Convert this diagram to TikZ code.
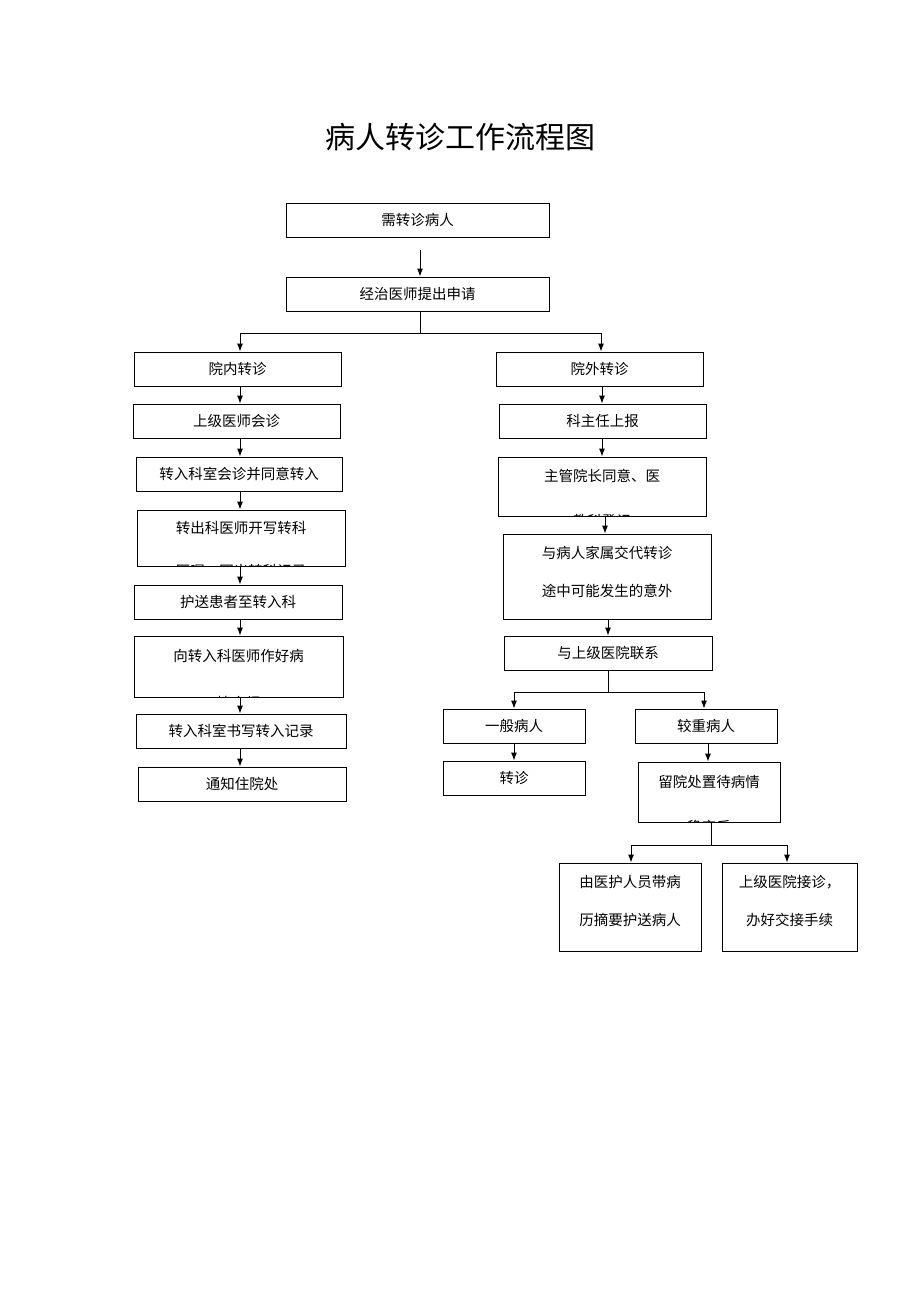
\documentclass[tikz,border=0pt]{standalone}
\usepackage{fontspec}
\newfontfamily\cjk{Noto Sans CJK SC}
\usetikzlibrary{arrows.meta}
\begin{document}
\begin{tikzpicture}[x=1pt,y=-1pt,
  box/.style={draw,line width=0.9pt,inner sep=0pt},
  lbl/.style={font=\cjk\fontsize{14.5}{15}\selectfont,inner sep=0pt},
  arr/.style={line width=0.9pt,-{Latex[length=8pt,width=6pt]}},
  ln/.style={line width=0.9pt}]
\useasboundingbox (0,0) rectangle (920,1302);
\newcommand\bx[5]{\node[box,minimum width=#4pt,minimum height=#5pt] (#1) at (#2,#3) {};}
\node[font=\cjk\fontsize{30}{32}\selectfont] (title) at (460,137) {病人转诊工作流程图};
% top
\bx{a}{417.5}{220}{263}{34}\node[lbl] at (a) {需转诊病人};
\bx{b}{417.5}{294}{263}{34}\node[lbl] at (b) {经治医师提出申请};
\coordinate (a0) at (420,250);
\draw[arr] (a0) -- (a0 |- b.north);
\coordinate (s1) at (420,333);
\coordinate (sl) at (240,333);
\coordinate (sr) at (601,333);
\draw[ln] (b.south -| s1) -- (s1);
\draw[ln] (sl) -- (sr);
% left column
\bx{l1}{237.5}{369}{207}{34}\node[lbl] at (l1) {院内转诊};
\bx{l2}{236.5}{421}{207}{34}\node[lbl] at (l2) {上级医师会诊};
\bx{l3}{239}{474}{206}{34}\node[lbl] at (l3) {转入科室会诊并同意转入};
\bx{l4}{241}{538}{208}{56}
\begin{scope}\clip (137,510) rectangle (345,566);
\node[lbl] at (241,528) {转出科医师开写转科};
\node[lbl] at (241,571) {医嘱，写出转科记录};\end{scope}
\bx{l5}{238}{602}{208}{34}\node[lbl] at (l5) {护送患者至转入科};
\bx{l6}{238.5}{666.5}{209}{61}
\begin{scope}\clip (134,636) rectangle (343,697);
\node[lbl] at (238.5,656) {向转入科医师作好病};
\node[lbl] at (238.5,703) {情介绍};\end{scope}
\bx{l7}{241}{731}{210}{34}\node[lbl] at (l7) {转入科室书写转入记录};
\bx{l8}{242}{784}{208}{34}\node[lbl] at (l8) {通知住院处};
\draw[arr] (sl) -- (sl |- l1.north);
\foreach \p/\q in {l1/l2,l2/l3,l3/l4,l4/l5,l5/l6,l6/l7,l7/l8}
  \draw[arr] (240,0 |- \p.south) -- (240,0 |- \q.north);
% right column
\bx{r1}{599.5}{369}{207}{34}\node[lbl] at (r1) {院外转诊};
\bx{r2}{602.5}{421}{207}{34}\node[lbl] at (r2) {科主任上报};
\bx{r3}{602}{486.5}{208}{59}
\begin{scope}\clip (498,457) rectangle (706,516);
\node[lbl] at (602,476) {主管院长同意、医};
\node[lbl] at (602,521) {教科登记};\end{scope}
\bx{r4}{607}{576.5}{208}{85}
\node[lbl] at (607,553) {与病人家属交代转诊};
\node[lbl] at (607,591) {途中可能发生的意外};
\bx{r5}{608}{653}{208}{34}\node[lbl] at (r5) {与上级医院联系};
\draw[arr] (sr) -- (sr |- r1.north);
\draw[arr] (602,0 |- r1.south) -- (602,0 |- r2.north);
\draw[arr] (602,0 |- r2.south) -- (602,0 |- r3.north);
\draw[arr] (605,0 |- r3.south) -- (605,0 |- r4.north);
\draw[arr] (608,0 |- r4.south) -- (608,0 |- r5.north);
\coordinate (s2) at (608,692);
\coordinate (s2l) at (514,692);
\coordinate (s2r) at (704,692);
\draw[ln] (r5.south -| s2) -- (s2);
\draw[ln] (s2l) -- (s2r);
\bx{g1}{514}{726}{142}{34}\node[lbl] at (g1) {一般病人};
\bx{g2}{514}{778}{142}{34}\node[lbl] at (g2) {转诊};
\bx{h1}{706}{726}{142}{34}\node[lbl] at (h1) {较重病人};
\bx{h2}{709}{792}{142}{60}
\begin{scope}\clip (638,762) rectangle (780,822);
\node[lbl] at (709,782) {留院处置待病情};
\node[lbl] at (709,827) {稳定后};\end{scope}
\draw[arr] (s2l) -- (s2l |- g1.north);
\draw[arr] (s2r) -- (s2r |- h1.north);
\draw[arr] (514,0 |- g1.south) -- (514,0 |- g2.north);
\draw[arr] (708,0 |- h1.south) -- (708,0 |- h2.north);
\coordinate (s3) at (711,845);
\coordinate (s3l) at (631,845);
\coordinate (s3r) at (787,845);
\draw[ln] (h2.south -| s3) -- (s3);
\draw[ln] (s3l) -- (s3r);
\bx{k1}{630}{907}{142}{88}
\node[lbl] at (630,882) {由医护人员带病};
\node[lbl] at (630,920) {历摘要护送病人};
\bx{k2}{789.5}{907}{135}{88}
\node[lbl] at (789.5,882) {上级医院接诊，};
\node[lbl] at (789.5,920) {办好交接手续};
\draw[arr] (s3l) -- (s3l |- k1.north);
\draw[arr] (s3r) -- (s3r |- k2.north);
\end{tikzpicture}
\end{document}
